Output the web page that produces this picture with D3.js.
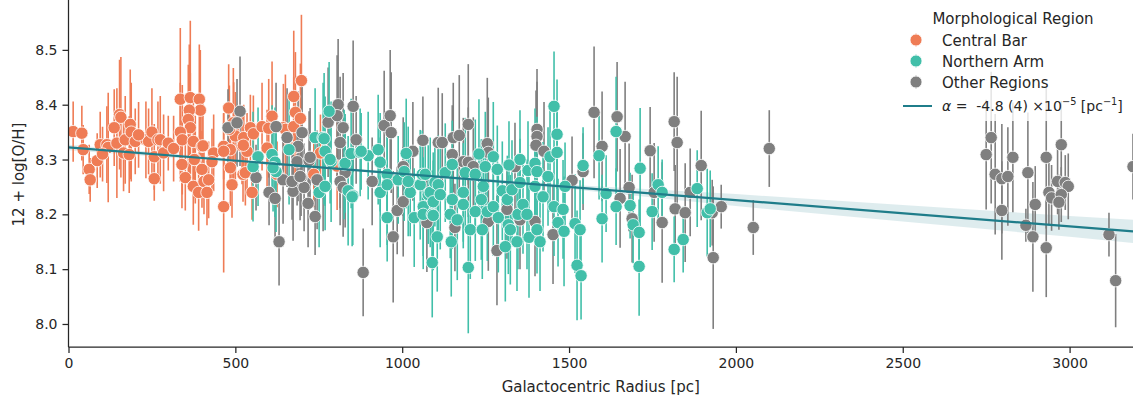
<!DOCTYPE html>
<html>
<head>
<meta charset="utf-8">
<script src="https://cdn.jsdelivr.net/npm/d3@7"></script>
<style>
  html, body { margin: 0; padding: 0; background: #ffffff; }
  svg { display: block; font-family: "DejaVu Sans", sans-serif; }
  text { white-space: pre; }
</style>
</head>
<body>
<svg id="chart" width="1133" height="404"></svg>
<script>
// ---------------- data ----------------
const categories = ["Central Bar", "Northern Arm", "Other Regions"];
const categoryColors = ["#ef7c55", "#41bfa9", "#7f7f7f"];

// [radius (pc), 12+log(O/H), uncertainty]
const centralBar = [
  [14,8.351,0.055],[40,8.348,0.05],[44,8.318,0.045],[62,8.282,0.045],[65,8.263,0.04],[86,8.298,0.05],
  [95,8.327,0.06],[115,8.327,0.07],[119,8.322,0.1],[137,8.358,0.07],[145,8.33,0.1],[153,8.382,0.1],
  [157,8.377,0.11],[165,8.312,0.07],[170,8.336,0.08],[185,8.364,0.1],[188,8.35,0.09],[200,8.333,0.06],
  [182,8.309,0.07],[232,8.336,0.07],[240,8.333,0.06],[250,8.35,0.08],[257,8.305,0.06],[257,8.265,0.04],
  [268,8.336,0.07],[275,8.336,0.08],[285,8.312,0.07],[299,8.33,0.05],[335,8.41,0.13],[365,8.413,0.14],
  [392,8.41,0.1],[395,8.39,0.11],[362,8.39,0.12],[359,8.373,0.1],[365,8.358,0.1],[335,8.35,0.09],
  [341,8.336,0.1],[374,8.333,0.08],[400,8.324,0.08],[380,8.30,0.08],[340,8.291,0.08],[350,8.267,0.06],
  [374,8.251,0.07],[390,8.24,0.07],[400,8.282,0.07],[406,8.26,0.06],[415,8.24,0.06],[420,8.263,0.07],
  [435,8.312,0.07],[430,8.296,0.06],[465,8.214,0.12],[465,8.324,0.06],[480,8.394,0.08],[485,8.318,0.06],
  [485,8.285,0.07],[490,8.254,0.06],[495,8.351,0.09],[494,8.367,0.1],[500,8.343,0.08],[520,8.325,0.07],
  [525,8.34,0.06],[535,8.315,0.07],[545,8.358,0.06],[554,8.347,0.07],[550,8.24,0.05],[523,8.273,0.05],
  [580,8.36,0.08],[595,8.321,0.07],[600,8.357,0.09],[610,8.379,0.1],[625,8.273,0.06],[644,8.358,0.08],
  [650,8.355,0.1],[675,8.415,0.12],[680,8.386,0.11],[675,8.36,0.09],[695,8.375,0.1],[698,8.444,0.12],
  [735,8.273,0.06],[675,8.321,0.07],[755,8.312,0.07],[805,8.288,0.08],[465,8.315,0.07],[482,8.355,0.08],
  [403,8.325,0.09],[377,8.30,0.07],[530,8.276,0.06],[524,8.326,0.06],[102,8.31,0.05],[210,8.345,0.06],
  [315,8.32,0.06]
];

const northernArm = [
  [568,8.305,0.09],[553,8.287,0.1],[610,8.309,0.09],[619,8.295,0.1],[622,8.278,0.11],[613,8.285,0.08],
  [661,8.318,0.1],[739,8.34,0.09],[763,8.34,0.1],[766,8.338,0.12],[781,8.388,0.09],[769,8.315,0.1],
  [787,8.296,0.11],[784,8.30,0.08],[826,8.291,0.1],[829,8.293,0.09],[847,8.311,0.1],[838,8.243,0.1],
  [852,8.234,0.09],[898,8.307,0.08],[751,8.24,0.1],[769,8.251,0.08],[850,8.232,0.09],[874,8.313,0.08],
  [877,8.315,0.07],[928,8.318,0.1],[934,8.295,0.09],[934,8.24,0.1],[955,8.273,0.09],[955,8.194,0.08],
  [955,8.254,0.11],[988,8.263,0.08],[1012,8.311,0.1],[1006,8.278,0.09],[1024,8.24,0.08],[1018,8.26,0.1],
  [1036,8.194,0.09],[1054,8.254,0.1],[1060,8.273,0.08],[1063,8.214,0.09],[1063,8.2,0.1],[1069,8.273,0.07],
  [1078,8.236,0.09],[1084,8.24,0.1],[1090,8.2,0.08],[1093,8.223,0.09],[1093,8.198,0.1],[1090,8.112,0.1],
  [1098,8.258,0.08],[1105,8.159,0.1],[1108,8.254,0.09],[1114,8.236,0.1],[1129,8.276,0.09],[1144,8.2,0.08],
  [1147,8.15,0.1],[1150,8.291,0.08],[1150,8.227,0.09],[1165,8.19,0.11],[1183,8.24,0.09],[1183,8.218,0.08],
  [1189,8.276,0.1],[1198,8.103,0.12],[1204,8.172,0.09],[1219,8.273,0.1],[1219,8.205,0.09],[1237,8.227,0.11],
  [1240,8.172,0.09],[1243,8.251,0.08],[1249,8.287,0.1],[1255,8.205,0.09],[1273,8.305,0.1],[1273,8.214,0.09],
  [1285,8.282,0.08],[1288,8.194,0.1],[1300,8.243,0.09],[1309,8.141,0.1],[1315,8.227,0.08],[1318,8.181,0.09],
  [1324,8.172,0.1],[1329,8.245,0.09],[1344,8.15,0.09],[1347,8.2,0.1],[1353,8.258,0.08],[1362,8.218,0.09],
  [1374,8.2,0.1],[1377,8.28,0.09],[1380,8.158,0.11],[1398,8.293,0.1],[1398,8.251,0.09],[1404,8.278,0.1],
  [1404,8.172,0.08],[1413,8.15,0.09],[1422,8.232,0.1],[1437,8.269,0.09],[1443,8.305,0.1],[1455,8.397,0.1],
  [1455,8.214,0.09],[1464,8.346,0.1],[1464,8.313,0.09],[1467,8.185,0.08],[1482,8.209,0.09],[1485,8.169,0.1],
  [1488,8.251,0.08],[1518,8.183,0.09],[1524,8.107,0.1],[1533,8.172,0.09],[1536,8.088,0.08],[1542,8.289,0.07],
  [1590,8.307,0.08],[1599,8.192,0.08],[1611,8.238,0.07],[1641,8.351,0.1],[1641,8.214,0.07],[1683,8.216,0.06],
  [1692,8.181,0.07],[1710,8.167,0.06],[1710,8.105,0.09],[1713,8.284,0.11],[1749,8.205,0.07],[1767,8.254,0.07],
  [1779,8.24,0.06],[1815,8.136,0.06],[1842,8.154,0.06],[1884,8.247,0.07],[1914,8.203,0.08],[1923,8.21,0.07],
  [1353,8.30,0.09],[1230,8.31,0.1],[1320,8.29,0.08]
];

const otherRegions = [
  [514,8.388,0.1],[478,8.358,0.07],[505,8.367,0.08],[562,8.267,0.06],[601,8.24,0.06],[619,8.229,0.07],
  [631,8.15,0.08],[643,8.263,0.08],[622,8.36,0.08],[655,8.34,0.09],[673,8.242,0.09],[685,8.296,0.08],
  [688,8.324,0.1],[700,8.349,0.1],[697,8.267,0.07],[706,8.249,0.08],[718,8.22,0.08],[739,8.196,0.07],
  [721,8.298,0.09],[778,8.368,0.1],[808,8.4,0.12],[805,8.38,0.11],[823,8.358,0.1],[814,8.331,0.12],
  [853,8.397,0.12],[862,8.336,0.08],[829,8.276,0.1],[814,8.26,0.08],[823,8.249,0.09],[883,8.094,0.08],
  [910,8.26,0.08],[763,8.249,0.08],[745,8.263,0.09],[670,8.26,0.07],[694,8.269,0.08],[724,8.304,0.09],
  [946,8.362,0.1],[964,8.38,0.12],[967,8.349,0.11],[1032,8.315,0.09],[1062,8.335,0.08],[1003,8.287,0.09],
  [985,8.207,0.08],[973,8.159,0.12],[1003,8.223,0.1],[1108,8.331,0.1],[1120,8.331,0.09],[1153,8.34,0.1],
  [1171,8.344,0.11],[1198,8.364,0.11],[1150,8.309,0.09],[1183,8.296,0.08],[1198,8.295,0.1],[1255,8.329,0.12],
  [1258,8.313,0.1],[1213,8.287,0.09],[1074,8.185,0.09],[1158,8.176,0.08],[1258,8.187,0.09],[1284,8.134,0.1],
  [1314,8.209,0.09],[1338,8.287,0.08],[1404,8.355,0.11],[1404,8.342,0.1],[1401,8.326,0.1],[1425,8.315,0.09],
  [1452,8.163,0.09],[1509,8.262,0.08],[1542,8.278,0.07],[1575,8.386,0.12],[1599,8.324,0.1],[1644,8.378,0.1],
  [1668,8.342,0.1],[1398,8.187,0.1],[1353,8.19,0.09],[1743,8.316,0.08],[1815,8.369,0.09],[1824,8.331,0.12],
  [1680,8.249,0.08],[1653,8.229,0.09],[1689,8.192,0.08],[1779,8.185,0.11],[1755,8.24,0.09],[1818,8.21,0.08],
  [1848,8.203,0.09],[1863,8.24,0.08],[1896,8.289,0.1],[1929,8.203,0.06],[1956,8.214,0.04],[1932,8.121,0.13],
  [2052,8.176,0.05],[2100,8.32,0.07],
  [2765,8.34,0.12],[2750,8.309,0.1],[2777,8.273,0.11],[2797,8.265,0.1],[2815,8.269,0.09],[2797,8.207,0.09],
  [2830,8.304,0.1],[2875,8.276,0.11],[2869,8.18,0.03],[2890,8.159,0.1],[2897,8.218,0.07],[2930,8.304,0.13],
  [2930,8.139,0.09],[2938,8.24,0.06],[2946,8.23,0.06],[2964,8.26,0.06],[2975,8.327,0.08],[2987,8.258,0.05],
  [2996,8.251,0.06],[2975,8.236,0.05],[2968,8.222,0.05],[3118,8.163,0.04],[3138,8.079,0.085],[3190,8.287,0.06]
];

// linear gradient fit and its confidence band
const fitIntercept = 8.322;
const fitSlope = -4.8e-5;
const fitLabel = "-4.8 (4)";
const bandX = [0, 500, 1000, 1500, 2000, 2500, 3000, 3250];
const bandHalf = [0.005, 0.003, 0.002, 0.004, 0.011, 0.015, 0.019, 0.022];

const xTicks = [0, 500, 1000, 1500, 2000, 2500, 3000];
const yTicks = [8.0, 8.1, 8.2, 8.3, 8.4, 8.5];
const xDomain = [0, 3190];
const yDomain = [7.958, 8.591];

// ---------------- chart ----------------
const svg = d3.select("#chart");
const W = 1133, H = 404;
const m = { left: 68.5, right: 0, top: 0, bottom: 57 };
const x = d3.scaleLinear().domain(xDomain).range([m.left, W - m.right]);
const y = d3.scaleLinear().domain(yDomain).range([H - m.bottom, m.top]);
const ink = "#262626";
const lineColor = "#1f7d8a";

svg.append("defs").append("clipPath").attr("id", "plotclip")
  .append("rect").attr("x", m.left).attr("y", m.top)
  .attr("width", W - m.left - m.right).attr("height", H - m.bottom - m.top);

const plot = svg.append("g").attr("clip-path", "url(#plotclip)");

// confidence band
const bandData = bandX.map((d, i) => ({ x: d, h: bandHalf[i] }));
plot.append("path")
  .datum(bandData)
  .attr("fill", lineColor).attr("fill-opacity", 0.15)
  .attr("d", d3.area()
    .x(d => x(d.x))
    .y0(d => y(fitIntercept + fitSlope * d.x - d.h))
    .y1(d => y(fitIntercept + fitSlope * d.x + d.h)));

const groups = [centralBar, northernArm, otherRegions];
const drawOrder = [0, 2, 1];

// error bars first
drawOrder.forEach(gi => {
  plot.append("g").selectAll("line").data(groups[gi]).join("line")
    .attr("x1", d => x(d[0])).attr("x2", d => x(d[0]))
    .attr("y1", d => y(d[1] - d[2])).attr("y2", d => y(d[1] + d[2]))
    .attr("stroke", categoryColors[gi]).attr("stroke-width", 1.6);
});
// markers
drawOrder.forEach(gi => {
  plot.append("g").selectAll("circle").data(groups[gi]).join("circle")
    .attr("cx", d => x(d[0])).attr("cy", d => y(d[1])).attr("r", 6.2)
    .attr("fill", categoryColors[gi]).attr("stroke", "#ffffff").attr("stroke-width", 0.8);
});

// fit line
plot.append("path")
  .datum(xDomain)
  .attr("fill", "none").attr("stroke", lineColor).attr("stroke-width", 2.2)
  .attr("d", d3.line().x(d => x(d)).y(d => y(fitIntercept + fitSlope * d)));

// axes
const xAxis = svg.append("g").attr("transform", `translate(0,${H - m.bottom})`)
  .call(d3.axisBottom(x).tickValues(xTicks).tickFormat(d3.format("d")).tickSize(6).tickPadding(5));
const yAxis = svg.append("g").attr("transform", `translate(${m.left},0)`)
  .call(d3.axisLeft(y).tickValues(yTicks).tickFormat(d3.format(".1f")).tickSize(6).tickPadding(5));
[xAxis, yAxis].forEach(a => {
  a.select(".domain").attr("stroke", ink).attr("stroke-width", 1.25);
  a.selectAll(".tick line").attr("stroke", ink).attr("stroke-width", 1.25);
  a.selectAll(".tick text").attr("fill", ink).attr("font-size", 14)
    .attr("font-family", "DejaVu Sans, sans-serif");
});
xAxis.select(".domain").attr("d", `M${m.left},0H${W}`);
yAxis.select(".domain").attr("d", `M0,${H - m.bottom}V0`);

svg.append("text")
  .attr("x", (m.left + W) / 2).attr("y", 392)
  .attr("text-anchor", "middle").attr("fill", ink).attr("font-size", 15)
  .text("Galactocentric Radius [pc]");
svg.append("text")
  .attr("transform", `translate(24,${(H - m.bottom) / 2 + 1}) rotate(-90)`)
  .attr("text-anchor", "middle").attr("fill", ink).attr("font-size", 15)
  .text("12 + log[O/H]");

// legend
const lg = svg.append("g");
lg.append("rect").attr("x", 892).attr("y", 4).attr("width", 240).attr("height", 117).attr("rx", 3)
  .attr("fill", "#ffffff").attr("fill-opacity", 0.8);
lg.append("text").attr("x", 1013).attr("y", 24).attr("text-anchor", "middle")
  .attr("fill", ink).attr("font-size", 15).text("Morphological Region");
categories.forEach((c, i) => {
  const cy = 40 + i * 21;
  lg.append("line").attr("x1", 916).attr("x2", 916).attr("y1", cy - 7).attr("y2", cy + 7)
    .attr("stroke", categoryColors[i]).attr("stroke-opacity", 0.4).attr("stroke-width", 1.5);
  lg.append("circle").attr("cx", 916).attr("cy", cy).attr("r", 6)
    .attr("fill", categoryColors[i]).attr("stroke", "#ffffff").attr("stroke-width", 0.8);
  lg.append("text").attr("x", 942).attr("y", cy + 5.5).attr("fill", ink).attr("font-size", 15).text(c);
});
lg.append("line").attr("x1", 903).attr("x2", 932).attr("y1", 106).attr("y2", 106)
  .attr("stroke", lineColor).attr("stroke-width", 2);
let fs = 15;
const ft = lg.append("text").attr("x", 942).attr("y", 111).attr("fill", ink).attr("font-size", fs);
ft.append("tspan").attr("font-style", "italic").text("α");
ft.append("tspan").text(" =  " + fitLabel + " ×10");
ft.append("tspan").attr("class", "sup").attr("dy", -6).text("−5");
ft.append("tspan").attr("dy", 6).text(" [pc");
ft.append("tspan").attr("class", "sup").attr("dy", -6).text("−1");
ft.append("tspan").attr("dy", 6).text("]");
function sizeFit() {
  ft.attr("font-size", fs);
  ft.selectAll(".sup").attr("font-size", fs * 0.7);
}
sizeFit();
const maxW = 183;
while (ft.node().getComputedTextLength() > maxW && fs > 10) { fs -= 0.25; sizeFit(); }
</script>
</body>
</html>
